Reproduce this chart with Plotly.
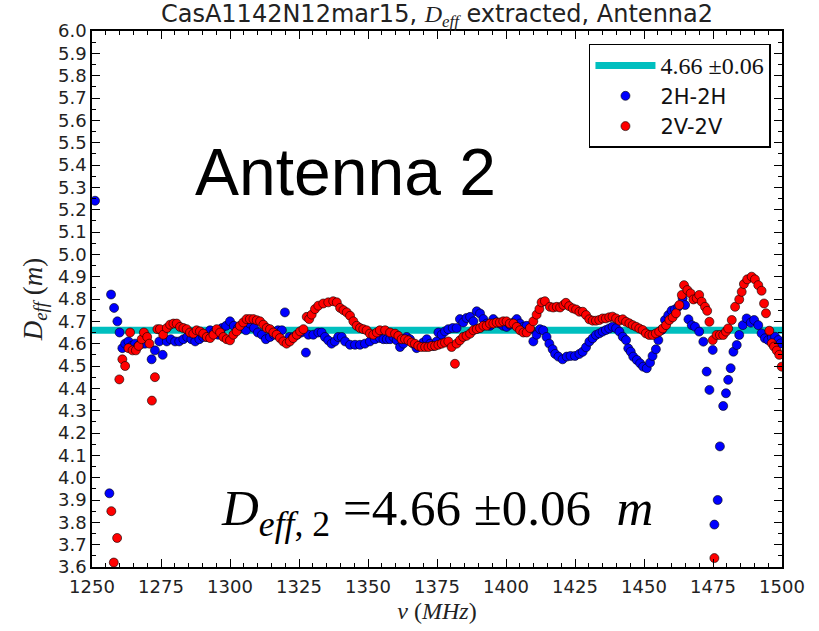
import plotly.graph_objects as go

# ---------------- data ----------------
freq_2h = [1251.1, 1256.3, 1256.9, 1258.0, 1259.2, 1260.0, 1261.0, 1262.0, 1263.2, 1264.4,
           1265.6, 1266.8, 1268.0, 1269.2, 1271.6, 1272.8, 1274.4, 1275.6, 1277.1, 1278.5,
           1280.1, 1281.6, 1283.1, 1284.5, 1286.0, 1287.4, 1288.9, 1290.3, 1291.6, 1292.8,
           1294.2, 1295.7, 1297.1, 1298.6, 1300.0, 1301.4, 1302.9, 1304.3, 1305.8, 1307.2,
           1308.7, 1310.1, 1311.6, 1313.0, 1314.5, 1315.9, 1317.4, 1318.8, 1319.9, 1321.5,
           1322.9, 1324.4, 1325.8, 1327.5, 1328.4, 1330.2, 1332.0, 1333.2, 1334.4, 1335.6,
           1336.8, 1338.0, 1339.2, 1340.5, 1341.7, 1343.5, 1345.3, 1347.1, 1348.9, 1350.7,
           1352.5, 1354.3, 1355.6, 1356.8, 1358.0, 1359.2, 1360.4, 1361.6, 1362.8, 1364.0,
           1365.2, 1366.4, 1367.6, 1368.8, 1370.0, 1371.3, 1372.5, 1373.7, 1374.9, 1375.5,
           1376.7, 1377.9, 1379.1, 1380.7, 1382.1, 1383.3, 1384.5, 1385.7, 1387.0, 1388.2,
           1389.4, 1390.6, 1391.8, 1393.0, 1394.2, 1395.4, 1396.6, 1397.8, 1399.0, 1400.2,
           1401.4, 1402.7, 1403.9, 1405.1, 1406.3, 1407.5, 1408.7, 1409.9, 1411.1, 1412.3,
           1413.5, 1414.7, 1415.7, 1416.9, 1417.8, 1419.0, 1420.5, 1422.0, 1423.4, 1425.0,
           1426.6, 1427.8, 1429.0, 1430.2, 1431.4, 1432.6, 1433.8, 1435.0, 1436.2, 1437.4,
           1438.6, 1439.9, 1441.1, 1442.3, 1443.5, 1444.3, 1445.2, 1446.1, 1447.4, 1448.6,
           1449.7, 1451.0, 1452.2, 1453.1, 1454.3, 1455.2, 1456.4, 1457.6, 1458.8, 1460.0,
           1461.2, 1462.4, 1464.0, 1464.9, 1466.1, 1467.3, 1468.5, 1470.0, 1471.5, 1472.7,
           1473.7, 1474.9, 1475.5, 1476.7, 1477.5, 1478.7, 1479.7, 1480.5, 1481.4, 1482.4,
           1483.6, 1484.5, 1485.8, 1487.2, 1488.7, 1489.9, 1491.4, 1492.6, 1493.8, 1495.0,
           1496.3, 1497.5, 1498.7, 1499.5]
deff_2h = [5.24, 3.93, 4.82, 4.76, 4.70, 4.65, 4.58, 4.60, 4.61, 4.59,
           4.60, 4.59, 4.60, 4.60, 4.53, 4.57, 4.61, 4.55, 4.61, 4.62,
           4.61, 4.61, 4.62, 4.63, 4.62, 4.61, 4.62, 4.63, 4.63, 4.66,
           4.65, 4.64, 4.67, 4.68, 4.70, 4.68, 4.67, 4.67, 4.66, 4.69,
           4.67, 4.65, 4.64, 4.62, 4.63, 4.64, 4.66, 4.66, 4.74, 4.63,
           4.63, 4.64, 4.65, 4.56, 4.64, 4.64, 4.65, 4.65, 4.63, 4.615,
           4.60, 4.61, 4.63, 4.63, 4.61, 4.595, 4.595, 4.595, 4.60, 4.61,
           4.62, 4.625, 4.62, 4.62, 4.62, 4.63, 4.615, 4.585, 4.60, 4.63,
           4.62, 4.60, 4.58, 4.59, 4.605, 4.62, 4.60, 4.59, 4.61, 4.65,
           4.64, 4.655, 4.665, 4.67, 4.67, 4.71, 4.695, 4.715, 4.72, 4.70,
           4.745, 4.735, 4.71, 4.69, 4.68, 4.71, 4.695, 4.69, 4.68, 4.675,
           4.685, 4.695, 4.71, 4.69, 4.675, 4.68, 4.665, 4.61, 4.64, 4.665,
           4.66, 4.63, 4.60, 4.575, 4.554, 4.542, 4.530, 4.542, 4.545, 4.545,
           4.554, 4.564, 4.584, 4.609, 4.624, 4.639, 4.646, 4.654, 4.661, 4.668,
           4.676, 4.669, 4.654, 4.631, 4.616, 4.579, 4.564, 4.542, 4.527, 4.512,
           4.497, 4.490, 4.515, 4.545, 4.575, 4.616, 4.661, 4.706, 4.728, 4.748,
           4.753, 4.765, 4.803, 4.773, 4.709, 4.683, 4.676, 4.654, 4.609, 4.475,
           4.393, 4.572, 3.79, 3.90, 4.14, 4.321, 4.378, 4.438, 4.490, 4.564,
           4.594, 4.639, 4.683, 4.713, 4.694, 4.706, 4.683, 4.646, 4.624, 4.616,
           4.628, 4.631, 4.616, 4.601]

freq_2v = [1257.0, 1257.9, 1259.1, 1259.9, 1261.0, 1262.0, 1263.2, 1263.8, 1264.7, 1265.9,
           1266.9, 1268.0, 1268.8, 1270.0, 1270.8, 1271.7, 1272.8, 1273.7, 1274.6, 1275.8,
           1277.1, 1278.3, 1279.5, 1280.7, 1281.9, 1283.1, 1284.3, 1285.5, 1286.7, 1287.9,
           1289.1, 1290.3, 1291.6, 1292.8, 1294.0, 1295.2, 1296.4, 1297.6, 1298.8, 1300.0,
           1301.2, 1302.4, 1303.6, 1304.8, 1306.0, 1307.2, 1308.5, 1309.7, 1310.9, 1312.1,
           1313.3, 1314.5, 1315.7, 1316.9, 1318.1, 1319.3, 1320.5, 1321.7, 1322.9, 1324.2,
           1325.4, 1326.6, 1327.8, 1328.7, 1329.6, 1330.8, 1332.0, 1333.8, 1335.6, 1337.4,
           1338.7, 1339.9, 1341.1, 1342.3, 1343.5, 1344.7, 1345.9, 1347.1, 1348.3, 1349.5,
           1350.7, 1351.9, 1353.2, 1354.3, 1356.2, 1358.0, 1359.8, 1361.0, 1362.2, 1363.4,
           1364.6, 1365.8, 1367.0, 1368.2, 1369.4, 1370.7, 1371.9, 1373.1, 1374.3, 1375.5,
           1376.7, 1377.9, 1379.1, 1380.3, 1381.5, 1382.1, 1383.3, 1384.5, 1385.7, 1387.0,
           1388.2, 1389.4, 1390.6, 1391.8, 1393.0, 1394.2, 1395.4, 1396.6, 1397.8, 1399.0,
           1400.2, 1401.4, 1402.7, 1403.9, 1405.1, 1406.3, 1407.5, 1408.7, 1409.9, 1411.1,
           1412.1, 1412.9, 1414.1, 1415.9, 1417.1, 1418.4, 1419.6, 1420.8, 1421.7, 1422.9,
           1424.2, 1425.4, 1426.6, 1427.8, 1429.0, 1430.2, 1431.4, 1432.6, 1433.8, 1435.0,
           1436.2, 1437.4, 1438.6, 1439.9, 1441.1, 1442.3, 1443.5, 1444.7, 1445.9, 1447.1,
           1448.3, 1449.5, 1450.7, 1451.9, 1453.1, 1454.3, 1455.5, 1456.8, 1458.0, 1459.2,
           1460.4, 1461.6, 1462.8, 1463.7, 1464.5, 1465.7, 1466.9, 1467.9, 1469.1, 1470.0,
           1470.9, 1472.1, 1472.9, 1473.7, 1474.9, 1475.5, 1476.3, 1477.5, 1478.7, 1479.7,
           1480.5, 1481.8, 1483.0, 1484.5, 1485.4, 1486.2, 1487.4, 1489.0, 1490.2, 1491.4,
           1492.6, 1493.5, 1494.2, 1495.4, 1496.3, 1497.1, 1498.1, 1499.0, 1499.9]
deff_2v = [3.85, 3.62, 3.73, 4.44, 4.53, 4.50, 4.58, 4.65, 4.57, 4.57,
           4.59, 4.62, 4.65, 4.63, 4.60, 4.345, 4.45, 4.665, 4.665, 4.64,
           4.67, 4.685, 4.69, 4.69, 4.675, 4.67, 4.665, 4.65, 4.645, 4.66,
           4.655, 4.645, 4.63, 4.625, 4.64, 4.665, 4.65, 4.63, 4.62, 4.615,
           4.64, 4.655, 4.68, 4.695, 4.71, 4.71, 4.71, 4.705, 4.70, 4.685,
           4.67, 4.665, 4.65, 4.64, 4.625, 4.61, 4.60, 4.61, 4.625, 4.64,
           4.655, 4.665, 4.72, 4.71, 4.73, 4.755, 4.77, 4.78, 4.785, 4.79,
           4.785, 4.76, 4.75, 4.74, 4.725, 4.70, 4.68, 4.67, 4.665, 4.66,
           4.645, 4.64, 4.65, 4.66, 4.66, 4.65, 4.645, 4.635, 4.62, 4.62,
           4.615, 4.605, 4.60, 4.59, 4.585, 4.585, 4.585, 4.59, 4.59, 4.595,
           4.60, 4.605, 4.61, 4.585, 4.51, 4.60, 4.615, 4.63, 4.635, 4.645,
           4.66, 4.665, 4.67, 4.68, 4.68, 4.69, 4.69, 4.695, 4.695, 4.70,
           4.70, 4.69, 4.69, 4.675, 4.66, 4.65, 4.65, 4.67, 4.70, 4.73,
           4.755, 4.785, 4.79, 4.765, 4.762, 4.765, 4.762, 4.773, 4.783, 4.768,
           4.758, 4.753, 4.743, 4.743, 4.728, 4.709, 4.703, 4.703, 4.706, 4.713,
           4.713, 4.718, 4.721, 4.713, 4.703, 4.709, 4.698, 4.691, 4.683, 4.676,
           4.668, 4.661, 4.646, 4.639, 4.639, 4.646, 4.654, 4.668, 4.683, 4.706,
           4.718, 4.736, 4.773, 4.818, 4.862, 4.840, 4.825, 4.798, 4.803, 4.818,
           4.788, 4.765, 4.747, 4.698, 4.616, 3.64, 4.639, 4.639, 4.639, 4.654,
           4.668, 4.706, 4.765, 4.798, 4.832, 4.867, 4.888, 4.900, 4.888, 4.862,
           4.837, 4.780, 4.736, 4.658, 4.602, 4.587, 4.569, 4.550, 4.497]

mean_deff = 4.66
mean_err = 0.06
x_range = [1250, 1500]
y_range = [3.6, 6.0]

SERIF = "Liberation Serif"
SANS = "DejaVu Sans"

fig = go.Figure()

fig.add_trace(go.Scatter(
    x=x_range, y=[mean_deff, mean_deff], mode="lines",
    line=dict(color="#00BFBF", width=7), legendgroup="a",
    name=f'<span style="font-family:{SERIF};font-size:24px">{mean_deff:.2f} ±{mean_err:.2f}</span>',
))
fig.add_trace(go.Scatter(
    x=freq_2h, y=deff_2h, mode="markers", name="2H-2H", legendgroup="b",
    marker=dict(color="#0000FF", size=9, line=dict(color="black", width=0.6)),
))
fig.add_trace(go.Scatter(
    x=freq_2v, y=deff_2v, mode="markers", name="2V-2V", legendgroup="c",
    marker=dict(color="#FF0000", size=9, line=dict(color="black", width=0.6)),
))

axis_common = dict(
    showline=True, linecolor="black", linewidth=1.5, mirror="allticks",
    ticks="inside", ticklen=8, tickwidth=1, tickcolor="black",
    showgrid=False, zeroline=False,
    tickfont=dict(family=SANS, size=18, color="#222"),
)

fig.update_xaxes(
    range=x_range, dtick=25, tick0=1250, ticklabelstandoff=3,
    minor=dict(dtick=5, ticklen=4, ticks="inside", tickcolor="black"),
    title=dict(text="<i>ν</i> (<i>MHz</i>)", font=dict(family=SERIF, size=24, color="#222"), standoff=6),
    **axis_common,
)
fig.update_yaxes(
    range=y_range, dtick=0.1, tick0=3.6, tickformat=".1f",
    minor=dict(dtick=0.05, ticklen=4, ticks="inside", tickcolor="black"),
    title=dict(text="<i>D</i><sub><i>eff</i></sub> (<i>m</i>)", font=dict(family=SERIF, size=27, color="#222"), standoff=8),
    **axis_common,
)

fig.update_layout(
    width=819, height=631,
    margin=dict(l=92, r=37, t=31, b=64),
    paper_bgcolor="white", plot_bgcolor="white",
    title=dict(
        text=f'CasA1142N12mar15, <span style="font-family:{SERIF}"><i>D</i><sub><i>eff</i></sub></span> extracted, Antenna2',
        x=0.5, xref="paper", xanchor="center", y=1 - 14 / 631, yref="container", yanchor="middle",
        font=dict(family=SANS, size=24, color="#222"),
    ),
    legend=dict(
        x=0.984, y=0.976, xanchor="right", yanchor="top",
        bgcolor="white", bordercolor="black", borderwidth=1.5,
        font=dict(family=SANS, size=21, color="#111"),
        itemwidth=60, tracegroupgap=3, traceorder="normal",
    ),
    showlegend=True,
)

fig.add_annotation(
    text="Antenna 2", x=(345 - 92) / 690, y=(567 - 172) / 536, xref="paper", yref="paper",
    showarrow=False, font=dict(family="Liberation Sans", size=66, color="black"),
    xanchor="center", yanchor="middle",
)
fig.add_annotation(
    text="<i>D</i><sub><i>eff</i>, 2</sub> =4.66 ±0.06  <i>m</i>",
    x=0.5, y=(567 - 512) / 536, xref="paper", yref="paper",
    showarrow=False, font=dict(family=SERIF, size=51, color="black"),
    xanchor="center", yanchor="middle",
)

fig.write_html("out.html")
